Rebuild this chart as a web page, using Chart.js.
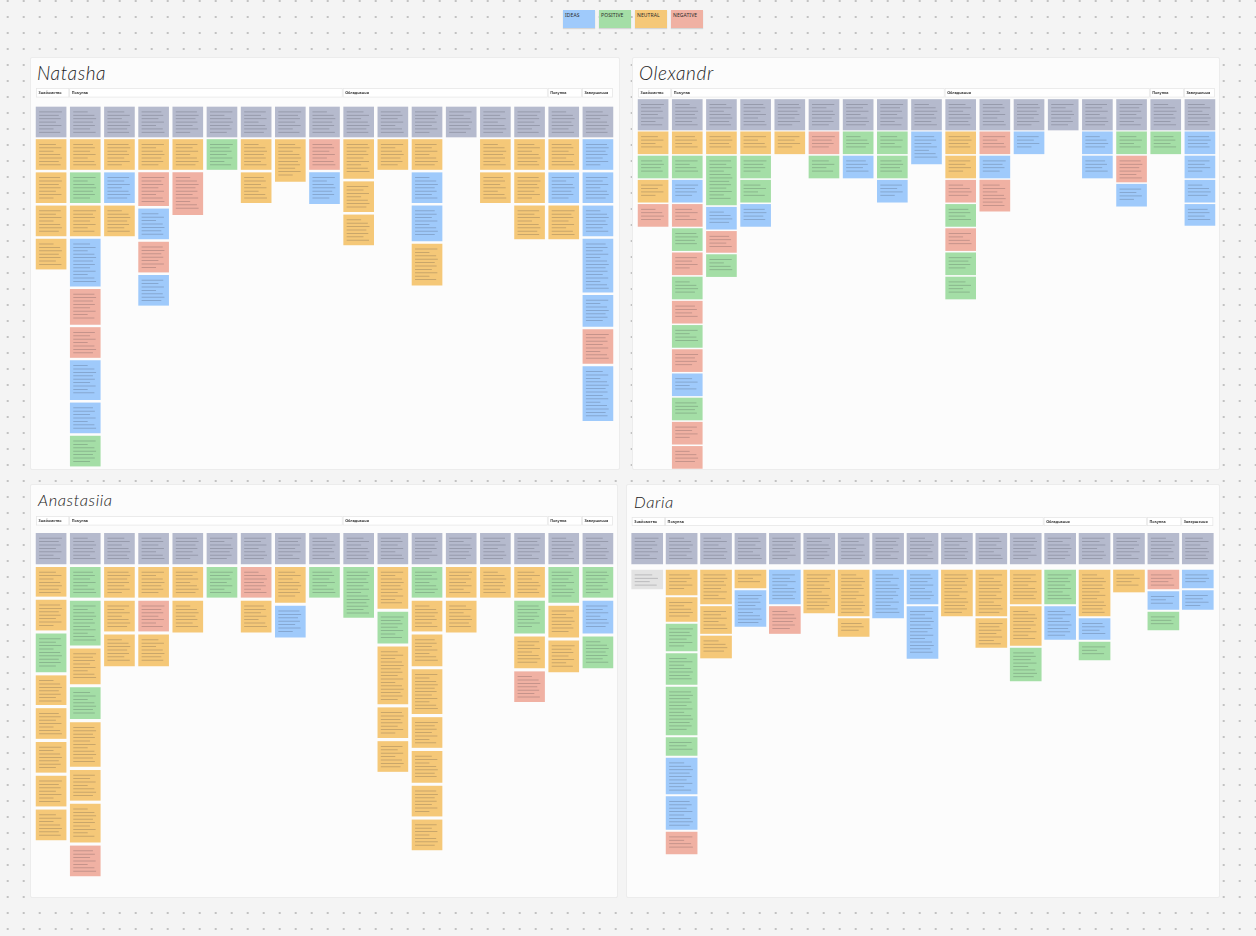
<!DOCTYPE html>
<html lang="uk">
<head>
<meta charset="utf-8">
<title>Customer journey boards</title>
<script src="https://cdn.jsdelivr.net/npm/chart.js@4.4.1/dist/chart.umd.min.js"></script>
<style>
  html, body { margin: 0; padding: 0; }
  body {
    width: 1256px; height: 936px; overflow: hidden; position: relative;
    background-color: #f4f4f4;
    background-image: radial-gradient(circle, #c2c2c2 0.8px, transparent 1.2px);
    background-size: 16px 16px;
    background-position: -0.3px -7px;
    font-family: "Noto Sans", sans-serif;
  }
  #legend { position: absolute; left: 563px; top: 10px; display: flex; gap: 4px; }
  .key {
    width: 32px; height: 18px; box-sizing: border-box; padding: 2px 0 0 2px;
    font-size: 5px; line-height: 6px; color: #2b2b2b; letter-spacing: 0.1px;
    box-shadow: 0 1px 1px rgba(0,0,0,0.12);
  }
  .panel {
    position: absolute; background: #fcfcfc; border: 1px solid #ececec;
    box-sizing: border-box; border-radius: 2px;
  }
  .panel h2 {
    position: absolute; margin: 0; font-weight: 300; font-style: italic;
    font-family: Lato, "DejaVu Sans", sans-serif; color: #222; letter-spacing: 0.6px;
    line-height: 1;
  }
  .panel canvas { position: absolute; }
</style>
</head>
<body>
<div id="legend"></div>
<script>
// stages of the journey (header strip over the columns)
const stages = ['Знайомство', 'Покупка', 'Обладнання', 'Покупка', 'Завершення'];

// how many question columns every stage has, per board
const natashaStageCols = [1, 8, 6, 1, 1];
const olexandrStageCols = [1, 8, 6, 1, 1];
const anastasiiaStageCols = [1, 8, 6, 1, 1];
const dariaStageCols = [1, 11, 3, 1, 1];

// sticky notes under each question, top to bottom: type letter + note length
// b = idea, g = positive, o = neutral, r = negative, w = blank
const natashaNotes = [
  'o30 o30 o30 o30',
  'o30 g30 o30 b47 r35 r30 b39 b30 g30',
  'o30 b30 o30',
  'o30 r33 b30 r30 b30',
  'o30 r42',
  'g30',
  'o30 o30',
  'o42',
  'r30 b31',
  'o39 o30 o30',
  'o30',
  'o30 b30 b35 o41',
  '',
  'o30 o30',
  'o30 o30 o33',
  'o30 b30 o33',
  'b30 b30 b30 b53 b31 r34 b54'
];
const olexandrNotes = [
  'o22 g22 o22 r22',
  'o22 g22 b22 r22 g22 r22 g22 r22 g22 r22 b22 g22 r22 r22',
  'o22 g49 b22 r21 g22',
  'o22 g22 g22 b22',
  'o22',
  'r22 g22',
  'g22 b22',
  'g22 g22 b22',
  'b32',
  'o22 o22 r22 g22 r22 g22 g22',
  'r22 b22 r31',
  'b22',
  '',
  'b22 b22',
  'g22 r26 b22',
  'g22',
  'b22 b22 b22 b21'
];
const anastasiiaNotes = [
  'o29 o30 g38 o29 o30 o30 o30 o30',
  'g30 g44 o35 g31 o44 o30 o38 r30',
  'o30 o30 o31',
  'o30 r30 o31',
  'o30 o31',
  'g30',
  'r30 o31',
  'o35 b31',
  'g30',
  'g50',
  'o41 g31 o57 o30 o30',
  'g30 o30 o31 o44 o30 o31 o30 o30',
  'o30 o31',
  'o30',
  'o30 g32 o31 r30',
  'g35 o31 o31',
  'g30 b32 g31'
];
const dariaNotes = [
  'w19',
  'o25 o24 g27 g31 g48 g18 b36 b33 r22',
  'o34 o27 o22',
  'o18 b36',
  'b34 r27',
  'o43',
  'o46 o18',
  'b48',
  'b34 b52',
  'o46',
  'o46 o29',
  'o34 o39 g33',
  'g34 b33',
  'o46 b21 g18',
  'o22',
  'r19 b18 g18',
  'b18 b19'
];

const legendKeys = ['b', 'g', 'o', 'r'];
const legendLabels = ['IDEAS', 'POSITIVE', 'NEUTRAL', 'NEGATIVE'];

// styles
const noteColors = { q: '#b5bacd', b: '#9fcafb', g: '#a4dea6', o: '#f5c878', r: '#f0b1a3', w: '#e3e3e3' };

// layout of the four boards (page px)
const boards = [
  { name: 'Natasha', notes: natashaNotes, stageCols: natashaStageCols,
    panel: [30, 57, 590, 413], canvas: [34, 85, 581, 385], titleAt: [6, 5, 19],
    hdr: [3, 9.5], q: [22, 30], notesTop: 54.5, gap: 3.2, barW: 30 },
  { name: 'Olexandr', notes: olexandrNotes, stageCols: olexandrStageCols,
    panel: [632, 57, 588, 413], canvas: [636, 85, 581, 385], titleAt: [6, 5, 19],
    hdr: [3, 9.5], q: [14.5, 30.5], notesTop: 46.8, gap: 2.2, barW: 30 },
  { name: 'Anastasiia', notes: anastasiiaNotes, stageCols: anastasiiaStageCols,
    panel: [30, 484, 588, 414], canvas: [34, 513, 581, 385], titleAt: [7, 7, 16.5],
    hdr: [3, 9.5], q: [20.3, 30.7], notesTop: 54.3, gap: 3.8, barW: 30 },
  { name: 'Daria', notes: dariaNotes, stageCols: dariaStageCols,
    panel: [626, 484, 594, 414], canvas: [630, 514, 585, 384], titleAt: [7, 9, 16.5],
    hdr: [3, 9], q: [19.3, 30.7], notesTop: 56, gap: 2.5, barW: 31 }
];

// legend row at the top
const legendBox = document.getElementById('legend');
legendLabels.forEach((t, i) => {
  const d = document.createElement('div');
  d.className = 'key';
  d.style.background = noteColors[legendKeys[i]];
  d.textContent = t;
  legendBox.appendChild(d);
});

// header strip with the stage names, drawn over the column scale
const stageHeader = {
  id: 'stageHeader',
  beforeDatasetsDraw(chart, args, opts) {
    const ctx = chart.ctx;
    const x = chart.scales.x;
    const half = opts.barW / 2;
    let col = 0;
    ctx.save();
    opts.stageCols.forEach((n, i) => {
      const left = x.getPixelForValue(col) - half - (i ? 1 : 0);
      const last = col + n - 1;
      const right = i === opts.stageCols.length - 1
        ? x.getPixelForValue(last) + half
        : x.getPixelForValue(last + 1) - half - 1;
      ctx.fillStyle = '#ffffff';
      ctx.fillRect(left, opts.top, right - left, opts.height);
      ctx.strokeStyle = '#e6e6e6';
      ctx.lineWidth = 0.8;
      ctx.strokeRect(left + 0.4, opts.top + 0.4, right - left - 0.8, opts.height - 0.8);
      ctx.fillStyle = '#3a3a3a';
      ctx.font = '700 3.7px "Noto Sans"';
      ctx.textBaseline = 'middle';
      ctx.fillText(stages[i], left + 2.5, opts.top + opts.height / 2 + 0.2);
      col += n;
    });
    ctx.restore();
  }
};

// faint lines standing for the tiny handwriting on every note
const noteLines = {
  id: 'noteLines',
  afterDatasetsDraw(chart) {
    const ctx = chart.ctx;
    const widths = [0.95, 0.82, 0.9, 0.7, 0.93, 0.6, 0.88];
    ctx.save();
    ctx.fillStyle = 'rgba(45,45,55,0.27)';
    chart.data.datasets.forEach((ds, i) => {
      chart.getDatasetMeta(i).data.forEach((el, j) => {
        if (ds.data[j] == null) return;
        const p = el.getProps(['x', 'y', 'base', 'width'], true);
        const top = Math.min(p.y, p.base), bottom = Math.max(p.y, p.base);
        const left = p.x - p.width / 2 + 3, w = p.width - 6;
        let k = 0;
        for (let ly = top + 4.5; ly < bottom - 4; ly += 3.4, k++) {
          const f = widths[(i * 3 + j * 5 + k) % widths.length];
          ctx.fillRect(left, ly, w * f, 0.8);
        }
      });
    });
    ctx.restore();
  }
};

function parseColumn(str) {
  const s = str.trim();
  return s === '' ? [] : s.split(/\s+/).map(t => ({ type: t[0], h: parseFloat(t.slice(1)) }));
}

boards.forEach(b => {
  const panel = document.createElement('div');
  panel.className = 'panel';
  panel.style.left = b.panel[0] + 'px';
  panel.style.top = b.panel[1] + 'px';
  panel.style.width = b.panel[2] + 'px';
  panel.style.height = b.panel[3] + 'px';

  const title = document.createElement('h2');
  title.textContent = b.name;
  title.style.left = b.titleAt[0] + 'px';
  title.style.top = b.titleAt[1] + 'px';
  title.style.fontSize = b.titleAt[2] + 'px';
  panel.appendChild(title);

  const canvas = document.createElement('canvas');
  canvas.width = b.canvas[2];
  canvas.height = b.canvas[3];
  canvas.style.left = (b.canvas[0] - b.panel[0] - 1) + 'px';
  canvas.style.top = (b.canvas[1] - b.panel[1] - 1) + 'px';
  panel.appendChild(canvas);
  document.body.appendChild(panel);

  const labels = [];
  stages.forEach((s, i) => {
    for (let k = 0; k < b.stageCols[i]; k++) labels.push(s + ' ' + (k + 1));
  });

  const cols = b.notes.map(parseColumn);
  const datasets = [{
    label: 'Питання',
    data: labels.map(() => [b.q[0], b.q[0] + b.q[1]]),
    backgroundColor: noteColors.q
  }];
  const depth = Math.max(...cols.map(c => c.length));
  const tops = cols.map(() => b.notesTop);
  for (let row = 0; row < depth; row++) {
    const data = [], colors = [];
    cols.forEach((c, i) => {
      const n = c[row];
      if (!n) { data.push(null); colors.push('rgba(0,0,0,0)'); return; }
      data.push([tops[i], tops[i] + n.h]);
      colors.push(noteColors[n.type]);
      tops[i] += n.h + b.gap;
    });
    datasets.push({ label: 'Ряд ' + (row + 1), data: data, backgroundColor: colors });
  }

  new Chart(canvas.getContext('2d'), {
    type: 'bar',
    data: { labels: labels, datasets: datasets },
    options: {
      responsive: false,
      animation: false,
      layout: { padding: 0 },
      datasets: {
        bar: { grouped: false, barThickness: b.barW, borderWidth: 0, borderSkipped: false, skipNull: true }
      },
      scales: {
        x: { display: false, offset: true },
        y: { display: false, reverse: true, min: 0, max: b.canvas[3] }
      },
      plugins: {
        legend: { display: false },
        tooltip: { enabled: false },
        stageHeader: { stageCols: b.stageCols, barW: b.barW, top: b.hdr[0], height: b.hdr[1] }
      }
    },
    plugins: [stageHeader, noteLines]
  });
});
</script>
</body>
</html>
